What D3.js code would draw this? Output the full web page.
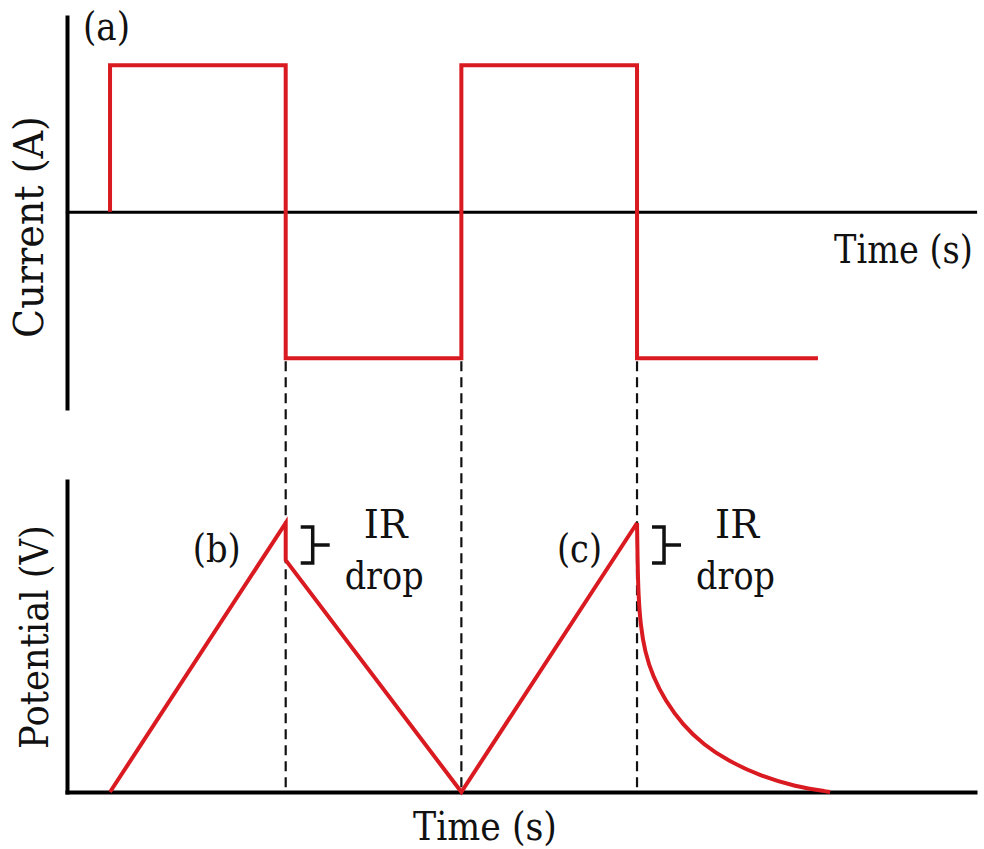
<!DOCTYPE html>
<html>
<head>
<meta charset="utf-8">
<script src="https://cdn.jsdelivr.net/npm/d3@7"></script>
<style>
html,body{margin:0;padding:0;background:#fff;}
svg{display:block;}
</style>
</head>
<body>
<svg id="chart" width="984" height="849"></svg>
<script>
// ---- data (time in half-period units) ----
const currentT = [0, 0, 1, 1, 2, 2, 3, 3, 4.03];
const currentI = [0, 1, 1, -1, -1, 1, 1, -1, -1];

const potentialT = [0, 1, 1, 2, 3];
const potentialV = [0, 1, 0.862, 0, 1];

const decayT = [3.000, 3.003, 3.008, 3.020, 3.045, 3.090, 3.160, 3.260, 3.380, 3.520, 3.700, 3.900, 4.099];
const decayV = [1.000, 0.860, 0.730, 0.620, 0.520, 0.430, 0.340, 0.250, 0.175, 0.115, 0.060, 0.020, 0.000];

const switchTimes = [1, 2, 3];
const panelLabels = ["(b)", "(c)"];
const irDropTop = [1, 1];
const irDropBottom = [0.862, 0.862];

const FONT = "DejaVu Serif";

// ---- scales ----
const svg = d3.select("#chart");
const x = d3.scaleLinear().domain([-0.245, 4.924]).range([67, 975]);
const yI = d3.scaleLinear().domain([-1.34, 1.33]).range([408, 17]);
const yV = d3.scaleLinear().domain([0, 1.156]).range([792, 481]);

const red = "#d91a20";

// ---- axes (no ticks) ----
function styleAxis(g, w) {
  g.selectAll(".tick").remove();
  g.select(".domain").attr("stroke", "#000").attr("stroke-width", w).attr("stroke-linecap", "square");
}
svg.append("g").attr("transform", `translate(${x.range()[0]},0)`)
  .call(d3.axisLeft(yI).tickValues([]).tickSizeOuter(0)).call(g => styleAxis(g, 4));
svg.append("g").attr("transform", `translate(0,${yI(0)})`)
  .call(d3.axisBottom(x).tickValues([]).tickSizeOuter(0)).call(g => styleAxis(g, 3.2));
svg.append("g").attr("transform", `translate(${x.range()[0]},0)`)
  .call(d3.axisLeft(yV).tickValues([]).tickSizeOuter(0)).call(g => styleAxis(g, 4));
svg.append("g").attr("transform", `translate(0,${yV(0)})`)
  .call(d3.axisBottom(x).tickValues([]).tickSizeOuter(0)).call(g => styleAxis(g, 4));

// ---- dashed guide lines ----
svg.selectAll("line.guide").data(switchTimes).join("line")
  .attr("class", "guide")
  .attr("x1", d => x(d)).attr("x2", d => x(d))
  .attr("y1", yI(-1) + 3).attr("y2", yV(0))
  .attr("stroke", "#111").attr("stroke-width", 2.2)
  .attr("stroke-dasharray", "10,6");

// ---- current square wave ----
const curData = currentT.map((t, i) => [t, currentI[i]]);
svg.append("path").datum(curData)
  .attr("d", d3.line().x(d => x(d[0])).y(d => yI(d[1])))
  .attr("fill", "none").attr("stroke", red).attr("stroke-width", 4)
  .attr("stroke-linejoin", "miter");

// ---- potential ----
const potData = potentialT.map((t, i) => [t, potentialV[i]]);
svg.append("path").datum(potData)
  .attr("d", d3.line().x(d => x(d[0])).y(d => yV(d[1])))
  .attr("fill", "none").attr("stroke", red).attr("stroke-width", 4)
  .attr("stroke-linejoin", "miter");

const decData = decayT.map((t, i) => [t, decayV[i]]);
svg.append("path").datum(decData)
  .attr("d", d3.line().curve(d3.curveBasis).x(d => x(d[0])).y(d => yV(d[1])))
  .attr("fill", "none").attr("stroke", red).attr("stroke-width", 4);

// ---- text helper: fit a label to a target width by horizontal scaling ----
function label(px, py, str, size, len, rot) {
  const t = svg.append("text")
    .attr("font-family", FONT).attr("font-size", size).attr("fill", "#111")
    .text(str);
  const nat = t.node().getComputedTextLength() || len;
  const sx = len / nat;
  if (rot) {
    t.attr("x", -nat / 2).attr("y", 0)
     .attr("transform", `translate(${px},${py}) rotate(-90) scale(${sx},1)`);
  } else {
    t.attr("x", 0).attr("y", 0)
     .attr("transform", `translate(${px},${py}) scale(${sx},1)`);
  }
  return t;
}

// ---- IR drop brackets ----
const bracketT = [1, 3];
bracketT.forEach((t, i) => {
  const bx = x(t) + 27;
  const yt = yV(irDropTop[i]) + 4;
  const yb = yV(irDropBottom[i]) + 3;
  const ym = (yt + yb) / 2;
  svg.append("path")
    .attr("d", `M${bx - 12},${yt}H${bx}V${yb}H${bx - 12}M${bx},${ym}H${bx + 17}`)
    .attr("fill", "none").attr("stroke", "#111").attr("stroke-width", 3.5);
  label(x(t) + 78, 538, "IR", 40, 44);
  label(x(t) + 59, 589, "drop", 40, 79);
});

// ---- labels ----
label(83, 40, "(a)", 40, 47);
label(x(1) - 93, 562, panelLabels[0], 40, 48);
label(x(3) - 80, 562, panelLabels[1], 40, 45);

label(834, 263, "Time (s)", 40, 139);
label(413, 840, "Time (s)", 40, 144);

label(43, 227, "Current (A)", 41, 222, true);
label(48, 637, "Potential (V)", 40, 224, true);
</script>
</body>
</html>
